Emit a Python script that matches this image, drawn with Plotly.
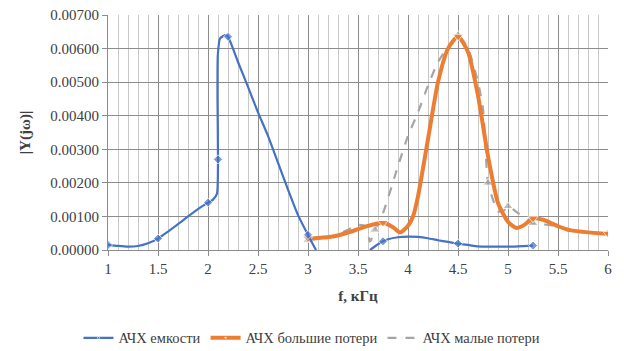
import plotly.graph_objects as go

# АЧХ емкости
cap_x = [1.0, 1.1, 1.2, 1.3, 1.4, 1.5, 1.6, 1.7, 1.8, 1.9, 2.0, 2.05, 2.09, 2.1, 2.095, 2.098, 2.12, 2.17, 2.2,
         2.3, 2.4, 2.5, 2.6, 2.7, 2.8, 2.9, 3.0, 3.08, None,
         3.62, 3.7, 3.75, 3.8, 3.9, 4.0, 4.1, 4.2, 4.3, 4.4, 4.5, 4.6, 4.7, 4.8, 5.0, 5.1, 5.25]
cap_y = [0.00015, 0.00012, 0.00010, 0.00012, 0.00020, 0.00034, 0.00055, 0.00077, 0.00100, 0.00122, 0.00141,
         0.00150, 0.00168, 0.00270, 0.00450, 0.00580, 0.00630, 0.00640, 0.00635,
         0.00560, 0.00486, 0.00410, 0.00340, 0.00260, 0.00180, 0.00104, 0.00045, 0.0, None,
         0.0, 0.00017, 0.00026, 0.00032, 0.00038, 0.00040, 0.00039, 0.00035, 0.00029, 0.00024, 0.00019,
         0.00015, 0.00011, 0.00010, 0.00010, 0.00011, 0.00013]
cap_marks = [1.0, 1.5, 2.0, 2.1, 2.2, 3.0, 3.75, 4.5, 5.25]

# АЧХ большие потери
big_x = [3.0, 3.1, 3.25, 3.4, 3.5, 3.6, 3.75, 3.85, 3.92, 4.0, 4.05, 4.1, 4.2, 4.3, 4.4, 4.5, 4.6, 4.7, 4.8,
         4.9, 5.0, 5.08, 5.15, 5.25, 5.35, 5.5, 5.6, 5.75, 5.9, 6.0]
big_y = [0.00035, 0.00036, 0.00040, 0.00052, 0.00062, 0.00072, 0.00081, 0.00068, 0.00052, 0.00072, 0.00100,
         0.00160, 0.00330, 0.00500, 0.00600, 0.00636, 0.00590, 0.00460, 0.00280, 0.00140, 0.00084,
         0.00066, 0.00072, 0.00094, 0.00090, 0.00071, 0.00060, 0.00054, 0.00050, 0.00049]
big_marks = [3.0, 3.75, 4.5, 5.25, 6.0]

# АЧХ малые потери
small_x = [3.0, 3.1, 3.25, 3.4, 3.5, 3.58, 3.62, 3.67, 3.75, 3.9, 4.0, 4.1, 4.2, 4.3, 4.4, 4.5, 4.6, 4.7,
           4.75, 4.8, 4.85, 4.9, 4.95, 5.0, 5.1, 5.25, 5.4, 5.5, 5.75, 6.0]
small_y = [0.00030, 0.00033, 0.00042, 0.00060, 0.00075, 0.00070, 0.00025, 0.00060, 0.00110, 0.00250,
           0.00340, 0.00410, 0.00490, 0.00560, 0.00605, 0.00640, 0.00600, 0.00500, 0.00420, 0.00200,
           0.00150, 0.00115, 0.00115, 0.00130, 0.00110, 0.00080, 0.00075, 0.00070, 0.00054, 0.00049]
small_marks = [3.0, 3.67, 4.5, 4.8, 5.0, 5.25, 6.0]

x_ticks = [1, 1.5, 2, 2.5, 3, 3.5, 4, 4.5, 5, 5.5, 6]
y_ticks = [0, 0.001, 0.002, 0.003, 0.004, 0.005, 0.006, 0.007]

BLUE = "#4472C4"
ORANGE = "#ED7D31"
GRAY = "#A5A5A5"
SERIF = "Liberation Serif"
TXT = "#404040"


def sizes(xs, marks, s):
    return [s if (x is not None and x in marks) else 0 for x in xs]


fig = go.Figure()
fig.add_trace(go.Scatter(x=small_x, y=small_y, name="АЧХ малые потери", mode="lines+markers",
                         line=dict(color=GRAY, width=2.2, dash="dash", shape="spline", smoothing=0.6),
                         marker=dict(symbol="triangle-up", color=GRAY, size=sizes(small_x, small_marks, 9))))
fig.add_trace(go.Scatter(x=big_x, y=big_y, name="АЧХ большие потери", mode="lines+markers",
                         line=dict(color=ORANGE, width=4, shape="spline", smoothing=0.6),
                         marker=dict(symbol="triangle-down", color=ORANGE, size=sizes(big_x, big_marks, 9))))
fig.add_trace(go.Scatter(x=cap_x, y=cap_y, name="АЧХ емкости", mode="lines+markers",
                         line=dict(color=BLUE, width=2.2, shape="spline", smoothing=0.5),
                         marker=dict(symbol="diamond", color=BLUE, size=sizes(cap_x, cap_marks, 7)),
                         connectgaps=False))

fig.update_layout(
    width=624, height=351,
    margin=dict(l=108, r=16, t=15, b=101, autoexpand=False),
    paper_bgcolor="white", plot_bgcolor="white",
    font=dict(family=SERIF, size=15, color=TXT),
    legend=dict(orientation="h", xref="container", x=0.5, xanchor="center", y=-0.374, yanchor="middle",
                traceorder="reversed", font=dict(family=SERIF, size=14.5, color=TXT)),
    showlegend=True,
)
fig.update_xaxes(range=[1, 6], tickvals=x_ticks, ticktext=[f"{v:g}" for v in x_ticks],
                 showgrid=True, gridcolor="#8c8c8c", gridwidth=1,
                 minor=dict(dtick=0.1, showgrid=True, gridcolor="#c8c8c8", gridwidth=1),
                 showline=True, linecolor="#8c8c8c", ticks="outside", ticklen=5, tickcolor="#8c8c8c",
                 zeroline=False, mirror=False, tickfont=dict(family=SERIF, size=15, color=TXT),
                 title=dict(text="<b>f, кГц</b>", font=dict(family=SERIF, size=15, color=TXT), standoff=14))
fig.update_yaxes(range=[0, 0.007], tickvals=y_ticks, tickformat=".5f",
                 showgrid=True, gridcolor="#8c8c8c", gridwidth=1,
                 showline=True, linecolor="#8c8c8c", ticks="outside", ticklen=5, tickcolor="#8c8c8c",
                 zeroline=False, tickfont=dict(family=SERIF, size=15, color=TXT),
                 title=dict(text="<b>|Y(jω)|</b>", font=dict(family=SERIF, size=15, color=TXT), standoff=16))

fig.write_html("out.html")
